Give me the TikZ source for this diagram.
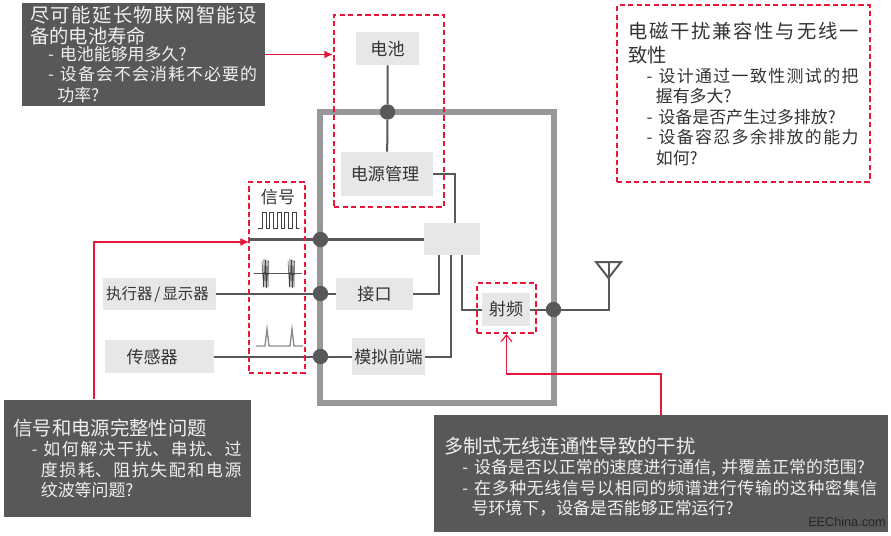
\documentclass[tikz,border=0pt]{standalone}
\usepackage{fontspec}
\setmainfont{Noto Sans CJK SC}
\newfontfamily\markfont{Liberation Sans}
\usetikzlibrary{arrows,arrows.meta,positioning}
\XeTeXlinebreaklocale "zh"
\XeTeXlinebreakskip=0pt plus 3pt
\tolerance=9999
\hbadness=10000
\hfuzz=20pt
\definecolor{boxdark}{HTML}{58585B}
\definecolor{boxtext}{HTML}{EFEFEF}
\definecolor{boxlight}{HTML}{E6E7E8}
\definecolor{framegrey}{HTML}{98989B}
\definecolor{redline}{HTML}{E8173A}
\definecolor{labeltext}{HTML}{333333}
\newcommand{\notetitle}[2][15.2]{\fontsize{14.5}{#1}\selectfont #2\par\fontsize{12.7}{15.3}\selectfont}
\newcommand{\dashitem}{\par\hangindent=20.5pt\hangafter=1\leavevmode\hspace*{13.5pt}\makebox[9pt][l]{-}}
\tikzset{
  boxsize/.style 2 args={minimum width=#1*0.75pt,minimum height=#2*0.75pt},
  block/.style={rectangle,fill=boxlight,inner sep=0pt,text=labeltext,font=\fontsize{12.8}{15}\selectfont},
  redframe/.style={rectangle,draw=redline,line width=1.5pt,dash pattern=on 4pt off 2.4pt,inner sep=0pt},
  note/.style={rectangle,fill=boxdark,text=boxtext,inner ysep=0pt,align=justify},
  wire/.style={draw=boxdark,line width=1.5pt},
  dot/.style={circle,fill=boxdark,minimum size=11.5pt,inner sep=0pt},
  redarrow/.style={draw=redline,line width=0.9pt}
}
\begin{document}
\begin{tikzpicture}[x=0.75pt,y=-0.75pt]
  \useasboundingbox (0,0) rectangle (891,535);
  \draw[framegrey,line width=4.5pt] (320,112) rectangle (554,403);
  % blocks
  \node[block,boxsize={63}{33}] (battery) at (387.5,48.5) {电池};
  \node[block,boxsize={92}{44}] (power) at (387,174) {电源管理\hspace*{3pt}};
  \node[block,boxsize={56}{32}] (hub) at (452,239) {};
  \node[block,boxsize={77}{32}] (iface) at (374.5,294) {接口};
  \node[block,boxsize={73}{37}] (afe) at (388.5,356.5) {模拟前端};
  \node[block,boxsize={48}{33}] (radio) at (506,309.5) {射频};
  \node[block,boxsize={113}{32},font=\fontsize{11.6}{14}\selectfont] (actuator) at (159.5,294) {执行器\hspace{1.5pt}/\hspace{1.5pt}显示器\hspace*{3pt}};
  \node[block,boxsize={109}{33}] (sensor) at (159.5,356.5) {传感器\hspace*{11pt}};
  \node[text=labeltext,inner sep=0pt,font=\fontsize{12.8}{15}\selectfont] (signal) at (278,197) {信号};
  % junctions
  \node[dot] (jbat) at (387.5,112) {};
  \node[dot] (jbus) at (320.5,239.5) {};
  \node[dot] (jact) at (320.5,293.5) {};
  \node[dot] (jsen) at (320.5,356.5) {};
  \node[dot] (jant) at (553.5,309.5) {};
  \coordinate (busin) at (249,239.5);
  \coordinate (hubtop) at (455,223);
  \coordinate (hubiface) at (439,255);
  \coordinate (hubafe) at (451,255);
  \coordinate (hubradio) at (462,255);
  \coordinate (anttop) at (608.5,262);
  \coordinate (antfoot) at (608.5,309.5);
  % wires
  \draw[wire] (battery) -- (jbat) -- (power);
  \draw[wire] (power.east) -| (hubtop);
  \draw[draw=boxdark,line width=2.4pt] (busin) -- (jbus) -- (jbus -| hub.west);
  \draw[wire] (actuator.east |- jact) -- (jact) -- (jact -| iface.west);
  \draw[wire] (iface.east |- jact) -| (hubiface);
  \draw[wire] (sensor.east |- jsen) -- (jsen) -- (jsen -| afe.west);
  \draw[wire] (jsen -| afe.east) -| (hubafe);
  \draw[wire] (hubradio) |- (radio.west);
  \draw[wire] (radio.east) -- (jant) -- (antfoot) -- (anttop);
  \draw[wire,line join=miter] (596,262) -- (621,262) -- (608.5,278) -- cycle;
  % waveforms
  \draw[black!75,line width=0.5pt] (258,228) -- (262,228)
    \foreach \i in {0,...,4} {
      -- ++(0,-16) -- ++(4,0) -- ++(0,16) -- ++(3.5,0)
    } -- (298,228);
  \draw[boxdark,line width=0.6pt] (254,273) -- (302,273);
  \foreach \bx in {262,288} {
    \draw[black!75,line width=0.4pt] (\bx,261) -- ++(1.5,26) -- ++(0.5,-28) -- ++(1,28)
      -- ++(0.5,-27) -- ++(1,28) -- ++(0.5,-28) -- ++(1,27) -- ++(0.5,-26);
  }
  \draw[black!45,line width=1pt] (256,346) -- (265,346) -- (267,329) -- (269,346) -- (290,346) -- (292,329) -- (294,346) -- (303,346);
  % notes
  \node[note,boxsize={243}{103},text width=227*0.75pt,inner xsep=6pt] (notebat) at (143.5,54.5) {%
    \notetitle{尽可能延长物联网智能设\linebreak 备的电池寿命}\vspace{-2.5pt}%
    \dashitem 电池能够用多久?%
    \dashitem 设备会不会消耗不必要的\linebreak 功率?\par};
  \node[note,boxsize={247}{117},text width=228*0.75pt,inner xsep=7.1pt] (notesig) at (127.5,458.5) {%
    \notetitle{信号和电源完整性问题}%
    \dashitem 如何解决干扰、串扰、过\linebreak 度损耗、阻抗失配和电源\linebreak 纹波等问题?\par};
  \node[note,boxsize={453.5}{117},text width=433*0.75pt,inner xsep=7.7pt] (noterf) at (660.75,473.5) {%
    \rule{0pt}{5pt}\par\vspace{-3pt}\notetitle{多制式无线连通性导致的干扰}%
    \dashitem 设备是否以正常的速度进行通信,\hspace{4pt}并覆盖正常的范围?%
    \dashitem 在多种无线信号以相同的频谱进行传输的这种密集信\linebreak 号环境下\char"FF0C\relax 设备是否能够正常运行?\par};
  \node[redframe,align=justify,boxsize={253}{176},text width=230*0.75pt,inner xsep=8.6pt,text=labeltext] (noteemc) at (743.5,93.5) {%
    \notetitle[18]{电磁干扰兼容性与无线一\linebreak 致性}%
    \dashitem 设计通过一致性测试的把\linebreak 握有多大?%
    \dashitem 设备是否产生过多排放?%
    \dashitem 设备容忍多余排放的能力\linebreak 如何?\par};
  \node[inner sep=0pt,text=black!85,font=\markfont\fontsize{9.5}{12}\selectfont] (mark) at (847,522) {EEChina.com};
  % red frames and arrows
  \node[redframe,boxsize={110}{192}] (powerframe) at (389,111) {};
  \node[redframe,boxsize={56}{191}] (signalframe) at (277,277.5) {};
  \node[redframe,boxsize={59}{50}] (radioframe) at (506.5,308) {};
  \coordinate (sigfrom) at (94,399);
  \coordinate (sigto) at (249,242);
  \coordinate (rffrom) at (661,415);
  \draw[redarrow,-{Latex[length=6.5pt,width=6pt]},line width=1.4pt] (notebat.east) -- (notebat.east -| powerframe.west);
  \draw[redarrow,-{Latex[length=6.5pt,width=6pt]}] (sigfrom) |- (sigto);
  \draw[redarrow,-{Straight Barb[length=5pt,width=8pt]}] (rffrom) -- ++(0,-41) -| (radioframe.south);
\end{tikzpicture}
\end{document}
